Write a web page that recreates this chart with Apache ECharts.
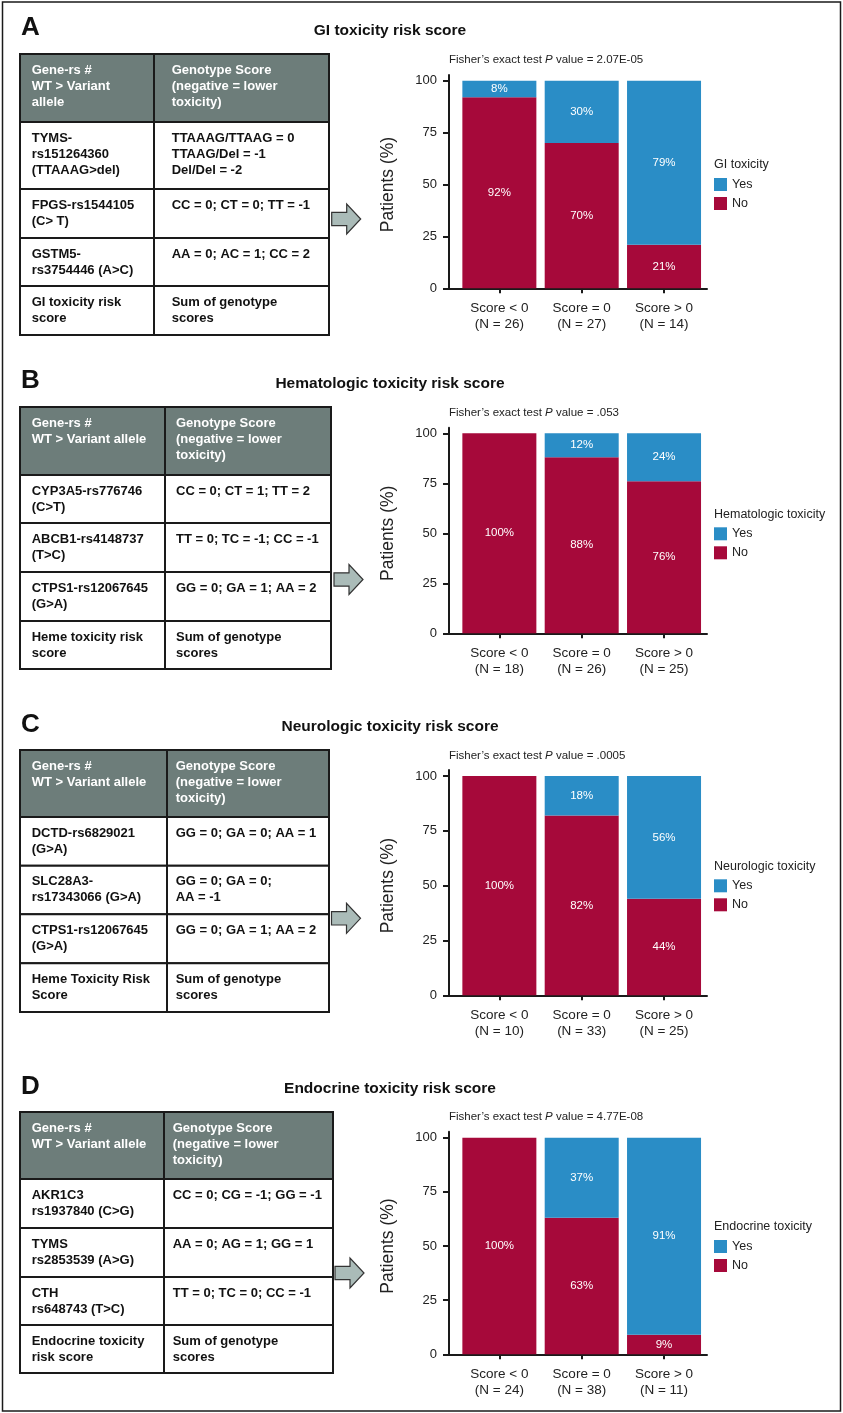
<!DOCTYPE html>
<html><head><meta charset="utf-8">
<script src="https://cdn.jsdelivr.net/npm/echarts@6/dist/echarts.min.js"></script>
<style>html,body{margin:0;padding:0;background:#fff}#c{width:843px;height:1413px}</style>
</head><body><div id="c"></div>
<script>
// ---------- DATA ----------
const catsA = ["Score < 0\n(N = 26)", "Score = 0\n(N = 27)", "Score > 0\n(N = 14)"];
const noA = [92, 70, 21];
const yesA = [8, 30, 79];
const catsB = ["Score < 0\n(N = 18)", "Score = 0\n(N = 26)", "Score > 0\n(N = 25)"];
const noB = [100, 88, 76];
const yesB = [0, 12, 24];
const catsC = ["Score < 0\n(N = 10)", "Score = 0\n(N = 33)", "Score > 0\n(N = 25)"];
const noC = [100, 82, 44];
const yesC = [0, 18, 56];
const catsD = ["Score < 0\n(N = 24)", "Score = 0\n(N = 38)", "Score > 0\n(N = 11)"];
const noD = [100, 63, 9];
const yesD = [0, 37, 91];
const yTicks = [0, 25, 50, 75, 100];
const letters = ["A", "B", "C", "D"];
const titles = ["GI toxicity risk score", "Hematologic toxicity risk score", "Neurologic toxicity risk score", "Endocrine toxicity risk score"];
const pValues = ["2.07E-05", ".053", ".0005", "4.77E-08"];
const legendTitles = ["GI toxicity", "Hematologic toxicity", "Neurologic toxicity", "Endocrine toxicity"];
const tableA = [
  ["Gene-rs #\nWT > Variant\nallele", "Genotype Score\n(negative = lower\ntoxicity)"],
  ["TYMS-\nrs151264360\n(TTAAAG>del)", "TTAAAG/TTAAG = 0\nTTAAG/Del = -1\nDel/Del = -2"],
  ["FPGS-rs1544105\n(C> T)", "CC = 0; CT = 0; TT = -1"],
  ["GSTM5-\nrs3754446 (A>C)", "AA = 0; AC = 1; CC = 2"],
  ["GI toxicity risk\nscore", "Sum of genotype\nscores"]
];
const tableB = [
  ["Gene-rs #\nWT > Variant allele", "Genotype Score\n(negative = lower\ntoxicity)"],
  ["CYP3A5-rs776746\n(C>T)", "CC = 0; CT = 1; TT = 2"],
  ["ABCB1-rs4148737\n(T>C)", "TT = 0; TC = -1; CC = -1"],
  ["CTPS1-rs12067645\n(G>A)", "GG = 0; GA = 1; AA = 2"],
  ["Heme toxicity risk\nscore", "Sum of genotype\nscores"]
];
const tableC = [
  ["Gene-rs #\nWT > Variant allele", "Genotype Score\n(negative = lower\ntoxicity)"],
  ["DCTD-rs6829021\n(G>A)", "GG = 0; GA = 0; AA = 1"],
  ["SLC28A3-\nrs17343066 (G>A)", "GG = 0; GA = 0;\nAA = -1"],
  ["CTPS1-rs12067645\n(G>A)", "GG = 0; GA = 1; AA = 2"],
  ["Heme Toxicity Risk\nScore", "Sum of genotype\nscores"]
];
const tableD = [
  ["Gene-rs #\nWT > Variant allele", "Genotype Score\n(negative = lower\ntoxicity)"],
  ["AKR1C3\nrs1937840 (C>G)", "CC = 0; CG = -1; GG = -1"],
  ["TYMS\nrs2853539 (A>G)", "AA = 0; AG = 1; GG = 1"],
  ["CTH\nrs648743 (T>C)", "TT = 0; TC = 0; CC = -1"],
  ["Endocrine toxicity\nrisk score", "Sum of genotype\nscores"]
];
const cats = [catsA, catsB, catsC, catsD];
const noVals = [noA, noB, noC, noD];
const yesVals = [yesA, yesB, yesC, yesD];
const tables = [tableA, tableB, tableC, tableD];

// ---------- LAYOUT ----------
const FONT = "'Liberation Sans', Arial, Helvetica, sans-serif";
const RED = '#a6093a', BLUE = '#2a8dc6', INK = '#1a1a1a';
const layout = [
  {letterY: 28, titleY: 31, fisherY: 60, yTop: 80.7, y0: 288.3, legT: 165, legTop: 178,
   tx: [20, 154, 329], ty: [54, 122, 189, 238, 286, 335], c2x: 171.7, ax: 331.7, ay: 219},
  {letterY: 381, titleY: 384, fisherY: 412.7, yTop: 433.3, y0: 633.3, legT: 514.3, legTop: 527.3,
   tx: [20, 165, 331], ty: [407, 475, 523, 572, 621, 669], c2x: 176, ax: 334, ay: 579.5},
  {letterY: 724.5, titleY: 727, fisherY: 755.7, yTop: 776, y0: 995.3, legT: 866.3, legTop: 879.3,
   tx: [20, 167, 329], ty: [750, 817, 865.7, 914.3, 963.3, 1012], c2x: 175.7, ax: 331.5, ay: 918.3},
  {letterY: 1087, titleY: 1089, fisherY: 1117, yTop: 1137.7, y0: 1354.3, legT: 1226.7, legTop: 1240,
   tx: [20, 164, 333], ty: [1112, 1179, 1228, 1277, 1325, 1373], c2x: 172.7, ax: 335, ay: 1273}
];
const AXL = 449, AXR = 707, BAND_L = 458.2, BAND_W = 247;

const grid = [], xAxis = [], yAxis = [], series = [], legend = [], graphic = [];
graphic.push({type: 'rect', shape: {x: 2.5, y: 2, width: 838, height: 1409}, style: {fill: 'none', stroke: INK, lineWidth: 1.5}, z: 0});

layout.forEach((L, i) => {
  const over = (L.y0 - L.yTop) / 100 * 2.75;
  grid.push({left: BAND_L, width: BAND_W, top: L.yTop, height: L.y0 - L.yTop});
  grid.push({left: AXL, width: AXR - AXL, top: L.yTop - over, height: L.y0 - L.yTop + over});
  const gi = 2 * i;
  xAxis.push({type: 'category', gridIndex: gi, data: cats[i], boundaryGap: true,
    axisLine: {show: false}, axisTick: {show: true, alignWithLabel: true, length: 5, lineStyle: {color: INK, width: 2}},
    axisLabel: {color: '#222', fontSize: 13.5, fontFamily: FONT, lineHeight: 16, margin: 12, interval: 0},
    splitLine: {show: false}});
  xAxis.push({type: 'value', gridIndex: gi + 1, min: 0, max: 1, axisLine: {show: true, onZero: false, lineStyle: {color: INK, width: 2}},
    axisTick: {show: false}, axisLabel: {show: false}, splitLine: {show: false}});
  yAxis.push({type: 'value', gridIndex: gi, min: yTicks[0], max: yTicks[yTicks.length - 1], interval: yTicks[1] - yTicks[0], offset: BAND_L - AXL,
    axisLine: {show: false}, axisTick: {show: true, length: 6, lineStyle: {color: INK, width: 2}},
    axisLabel: {color: '#222', fontSize: 13, fontFamily: FONT, margin: 12},
    splitLine: {show: false},
    name: 'Patients (%)', nameLocation: 'middle', nameGap: 52,
    nameTextStyle: {fontSize: 17.5, color: '#222', fontFamily: FONT}});
  yAxis.push({type: 'value', gridIndex: gi + 1, min: 0, max: 1, axisLine: {show: true, onZero: false, lineStyle: {color: INK, width: 2}},
    axisTick: {show: false}, axisLabel: {show: false}, splitLine: {show: false}});
  const lab = {show: true, position: 'inside', color: '#fff', fontSize: 11.5, fontFamily: FONT,
    formatter: p => (p.value > 0 ? p.value + '%' : '')};
  series.push({type: 'bar', name: 'No', stack: 's' + i, xAxisIndex: gi, yAxisIndex: gi, data: noVals[i],
    barWidth: 74, itemStyle: {color: RED}, label: lab, emphasis: {disabled: true}});
  series.push({type: 'bar', name: 'Yes', stack: 's' + i, xAxisIndex: gi, yAxisIndex: gi, data: yesVals[i],
    barWidth: 74, itemStyle: {color: BLUE}, label: lab, emphasis: {disabled: true}});
  legend.push({left: 714, top: L.legTop, orient: 'vertical', padding: 0, itemWidth: 13, itemHeight: 13, itemGap: 6,
    icon: 'rect', data: ['Yes', 'No'], selectedMode: false,
    textStyle: {fontSize: 12.5, color: '#222', fontFamily: FONT, lineHeight: 13}});

  graphic.push({type: 'text', style: {text: letters[i], x: 21, y: L.letterY, font: 'bold 26px ' + FONT, fill: '#111', verticalAlign: 'middle'}});
  graphic.push({type: 'text', style: {text: titles[i], x: 390, y: L.titleY, font: 'bold 15.5px ' + FONT, fill: '#111', align: 'center', verticalAlign: 'middle'}});
  graphic.push({type: 'text', style: {text: 'Fisher\u2019s exact test {i|P} value = ' + pValues[i], x: AXL, y: L.fisherY,
    font: '11.5px ' + FONT, fill: '#222', verticalAlign: 'middle',
    rich: {i: {fontStyle: 'italic', fontSize: 11.5, fontFamily: FONT, fill: '#222'}}}});
  graphic.push({type: 'text', style: {text: legendTitles[i], x: 714, y: L.legT, font: '12.5px ' + FONT, fill: '#222', verticalAlign: 'middle'}});

  const T = tables[i];
  for (let r = 0; r < 5; r++) {
    for (let c = 0; c < 2; c++) {
      const x0 = L.tx[c], x1 = L.tx[c + 1], y0 = L.ty[r], y1 = L.ty[r + 1];
      graphic.push({type: 'rect', shape: {x: x0, y: y0, width: x1 - x0, height: y1 - y0},
        style: {fill: r === 0 ? '#6d7d7a' : '#fff', stroke: INK, lineWidth: 2}});
      graphic.push({type: 'text', style: {text: T[r][c], x: c === 0 ? 31.7 : L.c2x, y: y0 + 8,
        font: 'bold 13px ' + FONT, lineHeight: 16, fill: r === 0 ? '#fff' : '#111', verticalAlign: 'top'}});
    }
  }
  const ax = L.ax, ay = L.ay;
  graphic.push({type: 'polygon', shape: {points: [[ax, ay - 6.7], [ax + 15, ay - 6.7], [ax + 15, ay - 15], [ax + 29, ay],
    [ax + 15, ay + 15], [ax + 15, ay + 6.7], [ax, ay + 6.7]]}, style: {fill: '#aabbb8', stroke: '#333', lineWidth: 1.2}});
});

const chart = echarts.init(document.getElementById('c'), null, {renderer: 'canvas'});
chart.setOption({animation: false, backgroundColor: '#fff', grid, xAxis, yAxis, series, legend, graphic});
</script></body></html>
